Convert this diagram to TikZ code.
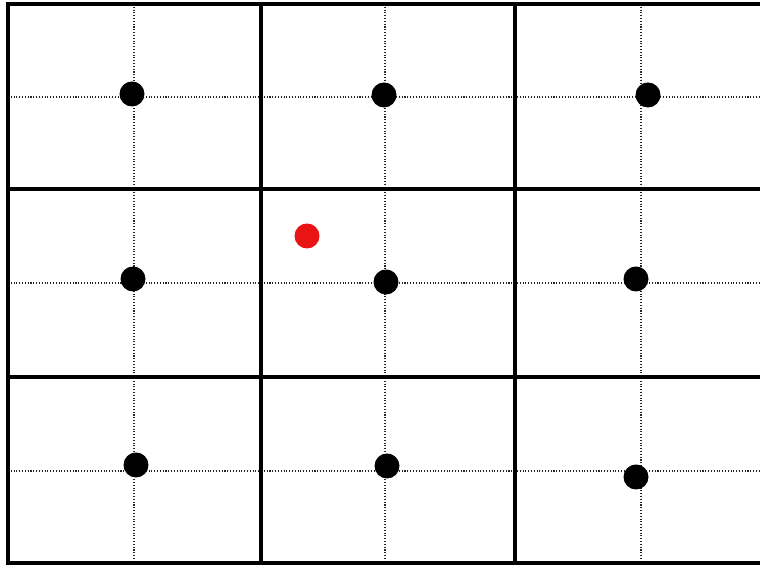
\documentclass[tikz,border=0pt]{standalone}
\usepackage{xcolor}
\usepackage{tikz}
\definecolor{samplered}{RGB}{235,20,20}

\begin{document}
\begin{tikzpicture}[
  cellline/.style={line width=2pt, black},
  guide/.style={densely dotted, line width=0.6pt, black!85},
  site/.style={circle, fill=black, inner sep=0pt, minimum size=0.5cm},
  query/.style={circle, fill=samplered, inner sep=0pt, minimum size=0.5cm}
]
\useasboundingbox (0,0) rectangle (15.2,11.32);

% Grid corners
\coordinate (tl) at (0.16,11.24);
\coordinate (bl) at (0.16,0.06);

% Dotted guides through the cells
\draw[guide] (2.68,11.24) -- (2.68,0.06);
\draw[guide] (7.70,11.24) -- (7.70,0.06);
\draw[guide] (12.82,11.24) -- (12.82,0.06);
\draw[guide] (0.16,9.38) -- (15.2,9.38);
\draw[guide] (0.16,5.66) -- (15.2,5.66);
\draw[guide] (0.16,1.90) -- (15.2,1.90);

% Cell borders
\draw[cellline] (15.2,11.24) -- (tl) -- (bl) -- (15.2,0.06);
\draw[cellline] (5.22,11.24) -- (5.22,0.06);
\draw[cellline] (10.30,11.24) -- (10.30,0.06);
\draw[cellline] (0.16,7.54) -- (15.2,7.54);
\draw[cellline] (0.16,3.78) -- (15.2,3.78);

% Sites, one per cell
\node[site] (s11) at (2.64,9.44) {};
\node[site] (s12) at (7.68,9.42) {};
\node[site] (s13) at (12.96,9.42) {};
\node[site] (s21) at (2.66,5.74) {};
\node[site] (s22) at (7.72,5.68) {};
\node[site] (s23) at (12.72,5.74) {};
\node[site] (s31) at (2.72,2.02) {};
\node[site] (s32) at (7.74,2.00) {};
\node[site] (s33) at (12.72,1.78) {};

% Query point
\node[query] (q) at (6.14,6.60) {};
\end{tikzpicture}
\end{document}
